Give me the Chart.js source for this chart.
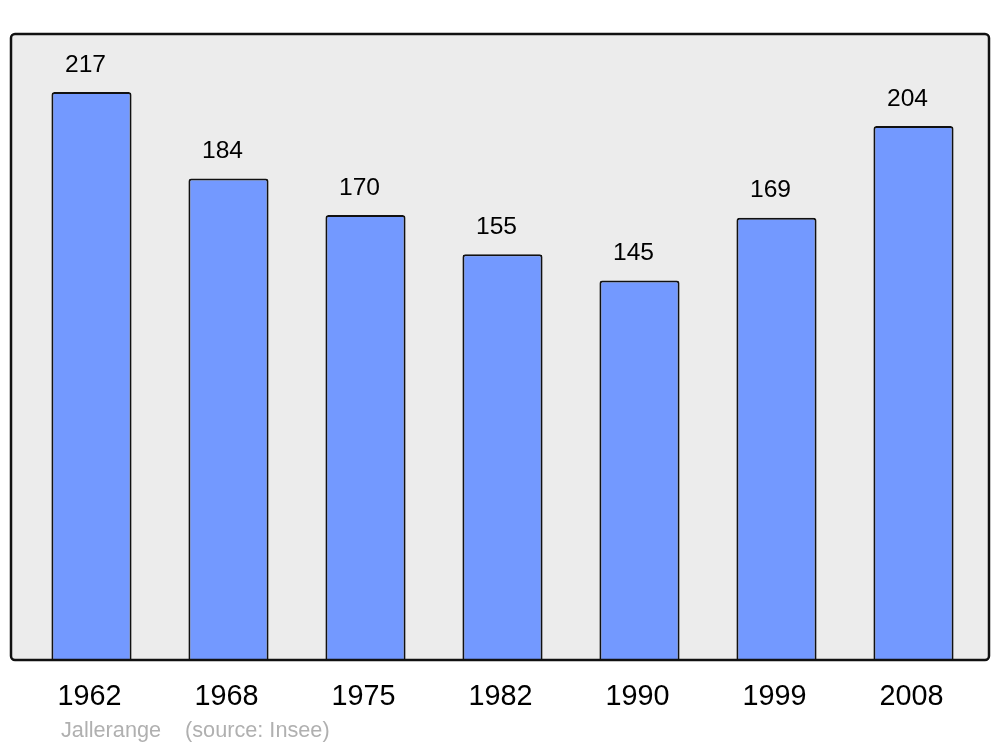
<!DOCTYPE html>
<html>
<head>
<meta charset="utf-8">
<script src="https://cdn.jsdelivr.net/npm/chart.js@4"></script>
<style>
  html, body { margin:0; padding:0; background:#fff; }
  #wrap { width:1000px; height:747px; }
</style>
</head>
<body>
<div id="wrap"><canvas id="popChart" width="1000" height="747"></canvas></div>
<script>
const years  = ['1962','1968','1975','1982','1990','1999','2008'];
const population = [217,184,170,155,145,169,204];
const commune = 'Jallerange';
const source  = '(source: Insee)';

// grey frame behind bars + black border on top
const frame = {
  id: 'frame',
  beforeDatasetsDraw(chart) {
    const { ctx, chartArea: a } = chart;
    ctx.save();
    ctx.beginPath();
    ctx.roundRect(11, a.top, 978, a.bottom - a.top, 4);
    ctx.fillStyle = '#ececec';
    ctx.fill();
    ctx.restore();
  },
  afterDatasetsDraw(chart) {
    const { ctx, chartArea: a } = chart;
    ctx.save();
    // value labels
    ctx.font = '24.6px "Liberation Sans", Arial, sans-serif';
    ctx.fillStyle = '#000';
    ctx.textAlign = 'center';
    ctx.textBaseline = 'middle';
    chart.getDatasetMeta(0).data.forEach((bar, i) => {
      ctx.fillText(String(population[i]), bar.x - 6, bar.y - 27);
    });
    // frame border
    ctx.beginPath();
    ctx.roundRect(11, a.top, 978, a.bottom - a.top, 4);
    ctx.lineWidth = 2.5;
    ctx.strokeStyle = '#111';
    ctx.stroke();
    // footer
    ctx.font = '21.7px "Liberation Sans", Arial, sans-serif';
    ctx.fillStyle = '#b0b0b0';
    ctx.textAlign = 'left';
    ctx.fillText(commune, 61, 731);
    ctx.fillText(source, 185, 731);
    ctx.restore();
  }
};

new Chart(document.getElementById('popChart'), {
  type: 'bar',
  data: {
    labels: years,
    datasets: [{
      data: population,
      backgroundColor: '#7399ff',
      borderColor: '#111',
      borderWidth: 2,
      borderRadius: { topLeft: 3, topRight: 3, bottomLeft: 0, bottomRight: 0 },
      borderSkipped: 'bottom',
      barPercentage: 0.585,
      categoryPercentage: 1
    }]
  },
  options: {
    responsive: false,
    animation: false,
    layout: { padding: { left: 23, right: 18, top: 34, bottom: 0 } },
    plugins: { legend: { display: false }, tooltip: { enabled: false } },
    scales: {
      x: {
        grid: { display: false, drawTicks: false },
        border: { display: false },
        ticks: { color: '#000', padding: 20, labelOffset: -2, font: { size: 28.8, family: '"Liberation Sans", Arial, sans-serif' } },
        afterFit: s => { s.height = 87; }
      },
      y: { display: false, min: 0, max: 239.2 }
    }
  },
  plugins: [frame]
});
</script>
</body>
</html>
